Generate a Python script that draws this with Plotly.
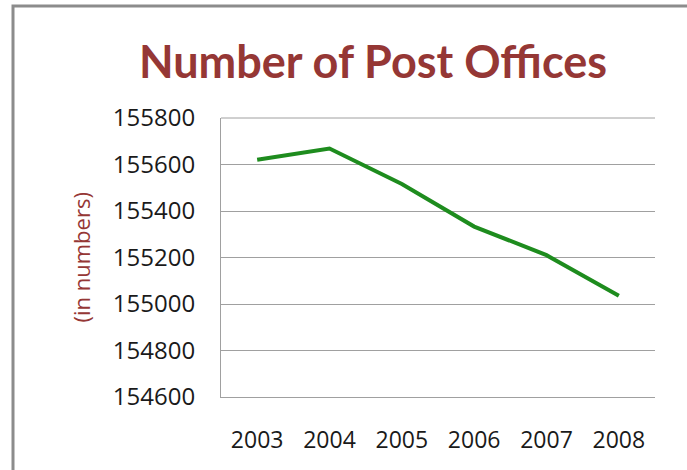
import plotly.graph_objects as go

years = ["2003", "2004", "2005", "2006", "2007", "2008"]
post_offices = [155620, 155669, 155516, 155333, 155210, 155035]
y_ticks = [154600, 154800, 155000, 155200, 155400, 155600, 155800]

W, H = 687, 470
ml, mr, mt, mb = 221, 32, 118, 73
pw, ph = W - ml - mr, H - mt - mb

fig = go.Figure(go.Scatter(
    x=years, y=post_offices, mode="lines",
    line=dict(color="#1e8c1e", width=4),
    cliponaxis=False,
))

fig.update_layout(
    width=W, height=H,
    margin=dict(l=ml, r=mr, t=mt, b=mb),
    paper_bgcolor="white", plot_bgcolor="white",
    showlegend=False,
    title=dict(text="<b>Number of Post Offices</b>", x=373 / W, xanchor="center",
               y=1 - 62 / H, yanchor="middle",
               font=dict(family="Lato", size=45, color="#953735")),
    xaxis=dict(type="category", range=[-0.5, 5.5], showgrid=False, showline=True,
               linecolor="#a0a0a0", linewidth=1, ticks="",
               tickfont=dict(family="Open Sans", size=23, color="#1a1a1a"),
               ticklabelstandoff=22),
    yaxis=dict(range=[154600, 155800], tickvals=y_ticks, tickformat="d",
               showgrid=True, gridcolor="#a0a0a0", gridwidth=1, showline=True,
               linecolor="#a0a0a0", linewidth=1, ticks="", zeroline=False,
               tickfont=dict(family="Open Sans", size=24, color="#1a1a1a"),
               ticklabelstandoff=20),
    annotations=[dict(text="(in numbers)", xref="paper", yref="paper",
                      x=(80 - ml) / pw, y=0.5, textangle=-90, showarrow=False,
                      xanchor="center", yanchor="middle",
                      font=dict(family="Open Sans", size=22, color="#953735"))],
    shapes=[dict(type="rect", xref="paper", yref="paper",
                 x0=(13 - ml) / pw, x1=2.0, y0=-1.0, y1=(H - mb - 6) / ph,
                 line=dict(color="#8c8c8c", width=3), layer="below"),
            dict(type="line", xref="paper", yref="paper", x0=0, x1=1, y0=1, y1=1,
                 line=dict(color="#a0a0a0", width=1), layer="below")],
)

fig.write_html("out.html", config={"displayModeBar": False},
               post_script="document.body.style.margin='0';document.body.style.overflow='hidden';")
